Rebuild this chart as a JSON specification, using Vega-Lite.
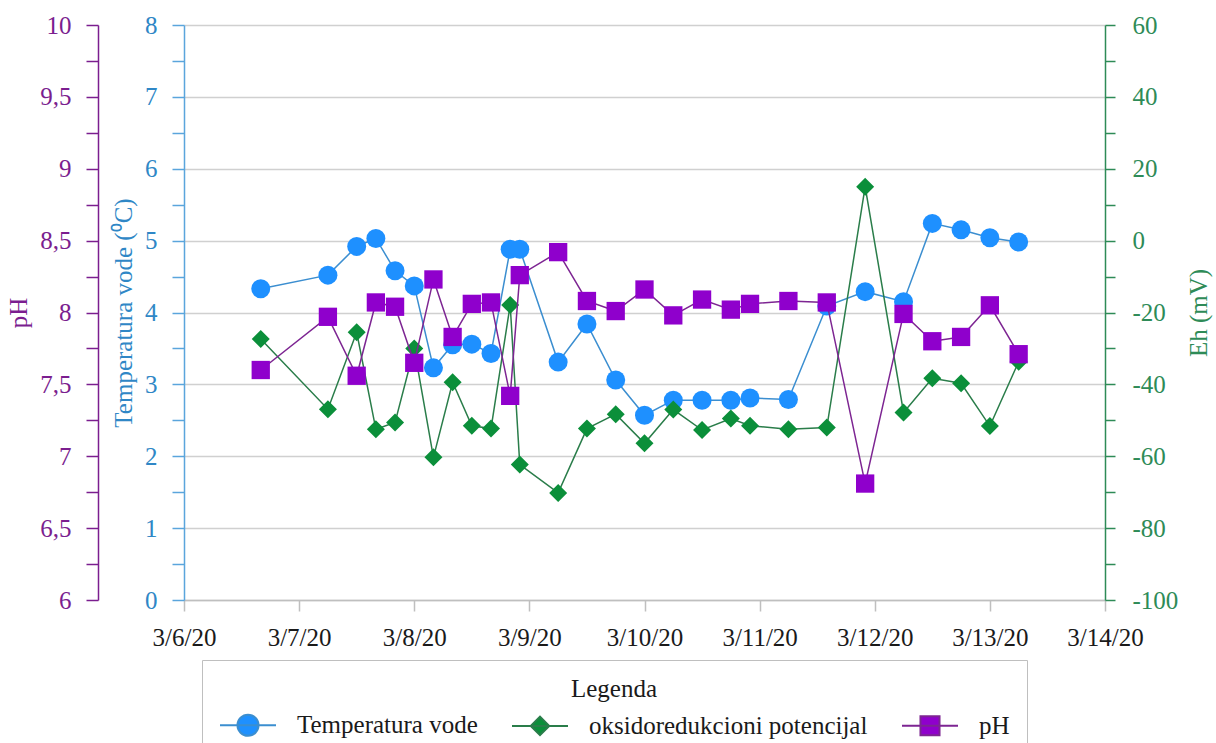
{
  "$schema": "https://vega.github.io/schema/vega-lite/v6.json",
  "width": 921,
  "height": 575,
  "autosize": {"type": "none"},
  "padding": {"left": 184, "top": 25, "right": 111, "bottom": 143},
  "background": "white",
  "config": {
    "font": "Liberation Serif",
    "view": {"stroke": null},
    "axis": {"labelFont": "Liberation Serif", "titleFont": "Liberation Serif", "labelFontSize": 25, "titleFontSize": 25, "titleFontWeight": "normal"},
    "legend": {
      "orient": "none",
      "legendX": 18,
      "legendY": 635,
      "direction": "horizontal",
      "titleFont": "Liberation Serif",
      "titleFontSize": 25,
      "titleFontWeight": "normal",
      "titleColor": "#1a1a1a",
      "titleAnchor": "middle",
      "titlePadding": -6,
      "labelFont": "Liberation Serif",
      "labelFontSize": 25,
      "labelColor": "#1a1a1a",
      "labelOffset": 20,
      "labelLimit": 600,
      "symbolSize": 3136,
      "symbolStrokeWidth": 2,
      "symbolOpacity": 1,
      "columnPadding": 30,
      "padding": 17,
      "strokeColor": "#bfbfbf",
      "fillColor": "white"
    }
  },
  "data": {
    "values": [
      {"t": "2020-03-06T16:00:00", "temp": 4.33, "eh": -27.4, "ph": 7.60},
      {"t": "2020-03-07T06:00:00", "temp": 4.52, "eh": -46.9, "ph": 7.97},
      {"t": "2020-03-07T12:00:00", "temp": 4.92, "eh": -25.5, "ph": 7.56},
      {"t": "2020-03-07T16:00:00", "temp": 5.03, "eh": -52.5, "ph": 8.07},
      {"t": "2020-03-07T20:00:00", "temp": 4.58, "eh": -50.6, "ph": 8.04},
      {"t": "2020-03-08T00:00:00", "temp": 4.37, "eh": -30.0, "ph": 7.65},
      {"t": "2020-03-08T04:00:00", "temp": 3.23, "eh": -60.3, "ph": 8.23},
      {"t": "2020-03-08T08:00:00", "temp": 3.55, "eh": -39.4, "ph": 7.83},
      {"t": "2020-03-08T12:00:00", "temp": 3.56, "eh": -51.5, "ph": 8.06},
      {"t": "2020-03-08T16:00:00", "temp": 3.43, "eh": -52.3, "ph": 8.07},
      {"t": "2020-03-08T20:00:00", "temp": 4.88, "eh": -17.9, "ph": 7.42},
      {"t": "2020-03-08T22:00:00", "temp": 4.88, "eh": -62.3, "ph": 8.26},
      {"t": "2020-03-09T06:00:00", "temp": 3.31, "eh": -70.2, "ph": 8.42},
      {"t": "2020-03-09T12:00:00", "temp": 3.84, "eh": -52.3, "ph": 8.08},
      {"t": "2020-03-09T18:00:00", "temp": 3.06, "eh": -48.3, "ph": 8.01},
      {"t": "2020-03-10T00:00:00", "temp": 2.57, "eh": -56.4, "ph": 8.16},
      {"t": "2020-03-10T06:00:00", "temp": 2.78, "eh": -47.0, "ph": 7.98},
      {"t": "2020-03-10T12:00:00", "temp": 2.78, "eh": -52.7, "ph": 8.09},
      {"t": "2020-03-10T18:00:00", "temp": 2.78, "eh": -49.5, "ph": 8.02},
      {"t": "2020-03-10T22:00:00", "temp": 2.81, "eh": -51.5, "ph": 8.06},
      {"t": "2020-03-11T06:00:00", "temp": 2.79, "eh": -52.5, "ph": 8.08},
      {"t": "2020-03-11T14:00:00", "temp": 4.09, "eh": -52.0, "ph": 8.07},
      {"t": "2020-03-11T22:00:00", "temp": 4.29, "eh": 15.0, "ph": 6.81},
      {"t": "2020-03-12T06:00:00", "temp": 4.15, "eh": -47.8, "ph": 7.99},
      {"t": "2020-03-12T12:00:00", "temp": 5.24, "eh": -38.3, "ph": 7.80},
      {"t": "2020-03-12T18:00:00", "temp": 5.15, "eh": -39.7, "ph": 7.83},
      {"t": "2020-03-13T00:00:00", "temp": 5.04, "eh": -51.6, "ph": 8.05},
      {"t": "2020-03-13T06:00:00", "temp": 4.98, "eh": -33.7, "ph": 7.71}
    ]
  },
  "encoding": {
    "x": {
      "field": "t",
      "type": "temporal",
      "scale": {"domain": [{"year": 2020, "month": 3, "date": 6}, {"year": 2020, "month": 3, "date": 14}]},
      "axis": {
        "title": null,
        "format": "%-m/%-d/%y",
        "tickCount": {"interval": "day", "step": 1},
        "labelColor": "#1a1a1a",
        "labelFontSize": 25,
        "labelPadding": 14,
        "labelOverlap": false,
        "labelFlush": false,
        "tickSize": 11,
        "tickColor": "#bfbfbf",
        "tickWidth": 1.5,
        "domainColor": "#bfbfbf",
        "domainWidth": 1.5,
        "grid": false
      }
    }
  },
  "layer": [
    {
      "encoding": {
        "y": {
          "field": "temp",
          "type": "quantitative",
          "scale": {"domain": [0, 8], "nice": false},
          "axis": {
            "orient": "left",
            "title": "Temperatura vode (⁰C)",
            "values": [0, 0.5, 1, 1.5, 2, 2.5, 3, 3.5, 4, 4.5, 5, 5.5, 6, 6.5, 7, 7.5, 8],
            "labelExpr": "datum.value % 1 === 0 ? toString(datum.value) : ''",
            "grid": true,
            "gridColor": "#d0d0d0",
            "gridWidth": 1.5,
            "gridOpacity": {"condition": {"test": "datum.value % 1 === 0", "value": 1}, "value": 0},
            "domainColor": "#5aa5dc",
            "domainWidth": 1.5,
            "tickColor": "#5aa5dc",
            "tickWidth": 1.5,
            "tickSize": 12,
            "labelColor": "#2f87c6",
            "titleColor": "#2f87c6",
            "labelPadding": 15,
            "titlePadding": 8
          }
        }
      },
      "layer": [
        {"mark": {"type": "line", "color": "#3b8ed0", "strokeWidth": 1.5}},
        {"mark": {"type": "point", "shape": "circle", "filled": true, "size": 361, "opacity": 1, "color": "#1E90FF"}},
        {
          "mark": {"type": "point", "filled": true, "opacity": 0, "strokeWidth": 2},
          "encoding": {
            "fill": {
              "datum": "Temperatura vode",
              "type": "nominal",
              "scale": {"domain": ["Temperatura vode", "oksidoredukcioni potencijal", "pH"], "range": ["#1E90FF", "#0B8F3A", "#8F00CC"]},
              "legend": {"title": "Legenda"}
            },
            "stroke": {
              "datum": "Temperatura vode",
              "type": "nominal",
              "scale": {"domain": ["Temperatura vode", "oksidoredukcioni potencijal", "pH"], "range": ["#3b8ed0", "#2a7d4a", "#7d2592"]},
              "legend": {"title": "Legenda"}
            },
            "shape": {
              "datum": "Temperatura vode",
              "type": "nominal",
              "scale": {"domain": ["Temperatura vode", "oksidoredukcioni potencijal", "pH"], "range": ["M-1,0H1M-0.375,0A0.375,0.375,0,1,1,0.375,0A0.375,0.375,0,1,1,-0.375,0Z", "M-1,0H1M-0.33,0L0,-0.33L0.33,0L0,0.33Z", "M-1,0H1M-0.34,-0.34H0.34V0.34H-0.34Z"]},
              "legend": {"title": "Legenda"}
            }
          }
        }
      ]
    },
    {
      "encoding": {
        "y": {
          "field": "eh",
          "type": "quantitative",
          "scale": {"domain": [-100, 60], "nice": false},
          "axis": {
            "orient": "right",
            "title": "Eh (mV)",
            "titleAngle": -90,
            "values": [-100, -90, -80, -70, -60, -50, -40, -30, -20, -10, 0, 10, 20, 30, 40, 50, 60],
            "labelExpr": "datum.value % 20 === 0 ? toString(datum.value) : ''",
            "grid": false,
            "domainColor": "#2e8b57",
            "domainWidth": 1.5,
            "tickColor": "#2e8b57",
            "tickWidth": 1.5,
            "tickSize": 10,
            "labelColor": "#2e8b57",
            "titleColor": "#2e8b57",
            "labelPadding": 17,
            "titlePadding": 34
          }
        }
      },
      "layer": [
        {"mark": {"type": "line", "color": "#2a7d4a", "strokeWidth": 1.5}},
        {"mark": {"type": "point", "shape": "diamond", "filled": true, "size": 324, "opacity": 1, "color": "#0B8F3A"}},
        {
          "mark": {"type": "point", "filled": true, "opacity": 0, "strokeWidth": 2},
          "encoding": {
            "fill": {"datum": "oksidoredukcioni potencijal", "type": "nominal", "legend": {"title": "Legenda"}},
            "stroke": {"datum": "oksidoredukcioni potencijal", "type": "nominal", "legend": {"title": "Legenda"}},
            "shape": {"datum": "oksidoredukcioni potencijal", "type": "nominal", "legend": {"title": "Legenda"}}
          }
        }
      ]
    },
    {
      "encoding": {
        "y": {
          "field": "ph",
          "type": "quantitative",
          "scale": {"domain": [6, 10], "nice": false},
          "axis": {
            "orient": "left",
            "offset": 86,
            "title": "pH",
            "values": [6, 6.25, 6.5, 6.75, 7, 7.25, 7.5, 7.75, 8, 8.25, 8.5, 8.75, 9, 9.25, 9.5, 9.75, 10],
            "labelExpr": "datum.value % 0.5 === 0 ? replace(format(datum.value, '.1~f'), '.', ',') : ''",
            "grid": false,
            "domainColor": "#7b1e8f",
            "domainWidth": 1.5,
            "tickColor": "#7b1e8f",
            "tickWidth": 1.5,
            "tickSize": 12,
            "labelColor": "#7b1e8f",
            "titleColor": "#7b1e8f",
            "labelPadding": 15,
            "titlePadding": 8
          }
        }
      },
      "layer": [
        {"mark": {"type": "line", "color": "#7d2592", "strokeWidth": 1.5}},
        {"mark": {"type": "point", "shape": "square", "filled": true, "size": 335, "opacity": 1, "color": "#8F00CC"}},
        {
          "mark": {"type": "point", "filled": true, "opacity": 0, "strokeWidth": 2},
          "encoding": {
            "fill": {"datum": "pH", "type": "nominal", "legend": {"title": "Legenda"}},
            "stroke": {"datum": "pH", "type": "nominal", "legend": {"title": "Legenda"}},
            "shape": {"datum": "pH", "type": "nominal", "legend": {"title": "Legenda"}}
          }
        }
      ]
    }
  ],
  "resolve": {"scale": {"y": "independent"}}
}
